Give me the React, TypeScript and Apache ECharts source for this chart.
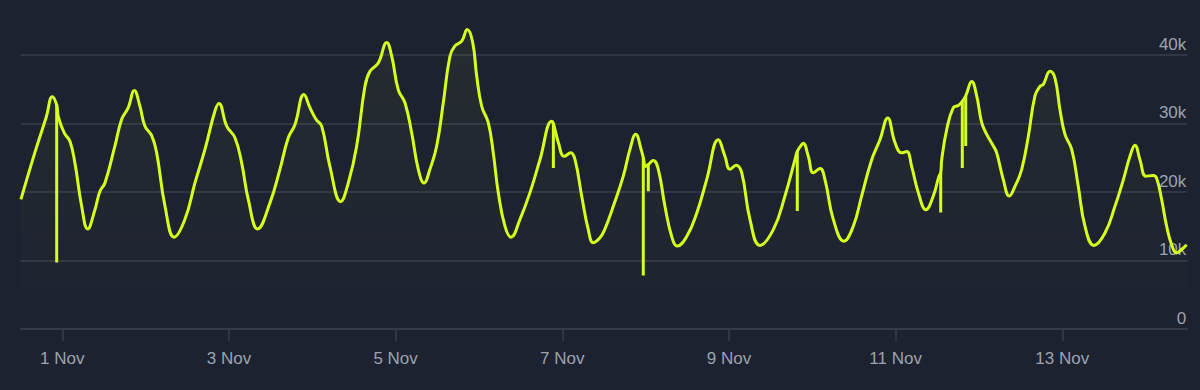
import React, { useEffect, useRef } from "react";
import * as echarts from "echarts";

// x = days since 1 Nov 00:00, y = concurrent users
const dayOffsets = [
  -0.496, -0.33, -0.19, -0.12, -0.067, -0.048, 0.024, 0.092, 0.152, 0.233, 0.305, 0.392, 0.452, 0.512,
  0.632, 0.713, 0.792, 0.864, 0.932, 0.992, 1.073, 1.133, 1.233, 1.344, 1.472, 1.592, 1.712, 1.832,
  1.88, 1.973, 2.072, 2.153, 2.232, 2.345, 2.492, 2.612, 2.712, 2.792, 2.9, 2.972, 3.044, 3.113,
  3.212, 3.341, 3.432, 3.533, 3.632, 3.692, 3.792, 3.893, 3.953, 4.032, 4.112, 4.193, 4.272, 4.341,
  4.412, 4.493, 4.572, 4.652, 4.712, 4.793, 4.86, 4.925, 4.973, 5.033, 5.112, 5.172, 5.232, 5.312,
  5.384, 5.492, 5.612, 5.732, 5.873, 5.893, 5.953, 6.024, 6.101, 6.153, 6.233, 6.312, 6.372, 6.452,
  6.512, 6.612, 6.732, 6.812, 6.881, 6.953, 6.972, 7.0, 7.032, 7.092, 7.152, 7.232, 7.313, 7.38,
  7.493, 7.613, 7.733, 7.872, 7.952, 8.012, 8.085, 8.153, 8.252, 8.372, 8.532, 8.672, 8.792, 8.82,
  8.873, 8.892, 8.952, 9.012, 9.092, 9.152, 9.252, 9.38, 9.492, 9.592, 9.713, 9.812, 9.905, 9.992,
  10.073, 10.133, 10.193, 10.272, 10.364, 10.452, 10.52, 10.541, 10.553, 10.613, 10.692, 10.752, 10.8,
  10.841, 10.913, 10.973, 11.033, 11.093, 11.173, 11.213, 11.292, 11.364, 11.432, 11.513, 11.592,
  11.672, 11.732, 11.772, 11.852, 11.912, 11.972, 12.032, 12.113, 12.192, 12.272, 12.38, 12.512,
  12.632, 12.733, 12.812, 12.872, 12.932, 13.004, 13.092, 13.132, 13.192, 13.252, 13.312, 13.372,
  13.432, 13.492,
];

const users = [
  18900, 25700, 31000, 33900, 32700, 31000, 28600, 27400, 24200, 17900, 14600, 17400, 20100, 21300,
  26700, 30600, 32300, 34800, 32500, 29600, 28200, 25700, 17900, 13400, 16000, 21300, 26200, 31800,
  32900, 29600, 27900, 24200, 18900, 14600, 18400, 23300, 27900, 29800, 34200, 32300, 30600, 29600,
  23700, 18600, 21300, 26700, 35400, 37600, 38800, 41800, 39800, 34900, 33000, 28600, 23300, 21300,
  23300, 26700, 33000, 39800, 41300, 42000, 43700, 41800, 36900, 32500, 30100, 25700, 19900, 15000,
  13400, 16000, 19900, 24700, 30300, 30000, 27200, 25200, 25700, 24700, 19400, 14500, 12600, 13300,
  14600, 17900, 22300, 26200, 28400, 25900, 25000, 23700, 24000, 24600, 23300, 17900, 13500, 12100,
  13500, 16900, 21800, 27600, 25200, 23300, 23900, 22800, 16000, 12200, 14500, 19400, 24700, 25900,
  26900, 27100, 25200, 22800, 23400, 21800, 16000, 12800, 15000, 19400, 24700, 27600, 30800, 27200,
  25700, 25900, 23700, 19900, 17400, 19400, 22300, 22800, 24700, 29100, 32300, 32600, 33200,
  34000, 36100, 34000, 30100, 28400, 26700, 25700, 21800, 19400, 20800, 23300, 28100,
  34000, 35400, 35700, 37600, 36600, 32000, 28400, 26200, 20800, 15000, 12200, 14000,
  17900, 21800, 25200, 26800, 24700, 22300, 22400, 22000, 18900, 15000, 12300, 11100,
  11600, 12300,
];

// momentary drop-outs drawn as vertical strokes
const spikeDays = [-0.067, 5.893, 6.972, 7.032, 8.82, 10.541, 10.8, 10.841];
const spikeTops = [32700, 30000, 25000, 24000, 25900, 22800, 33200, 34000];
const spikeLows = [9700, 23500, 7800, 20100, 17200, 17000, 23500, 26700];

const tickDays = [0, 2, 4, 6, 8, 10, 12];
const tickLabels = ["1 Nov", "3 Nov", "5 Nov", "7 Nov", "9 Nov", "11 Nov", "13 Nov"];

const LIME = "#d6ff1c";
const GRID = "#373e4e";
const TEXT = "#9ca2ad";
const FONT = "'Liberation Sans', Arial, sans-serif";

export default function App() {
  const ref = useRef<HTMLDivElement>(null);

  useEffect(() => {
    document.body.style.margin = "0";
    document.body.style.background = "#1d2231";
    if (!ref.current) return;
    const chart = echarts.init(ref.current, undefined, { renderer: "svg" });

    const mainData = dayOffsets.map((d, i) => [d, users[i]]);
    const spikeData: any[] = [];
    spikeDays.forEach((d, i) => {
      spikeData.push([d, spikeTops[i]]);
      spikeData.push([d, spikeLows[i]]);
      spikeData.push([d, "-"]);
    });

    chart.setOption({
      animation: false,
      backgroundColor: "#1d2231",
      grid: { left: 20.6, right: 12.7, top: 0, bottom: 61, containLabel: false },
      xAxis: {
        type: "value",
        min: -0.5,
        max: 13.5,
        axisLine: { show: true, lineStyle: { color: GRID, width: 1.5 } },
        axisTick: {
          show: true,
          customValues: tickDays,
          length: 12,
          lineStyle: { color: GRID, width: 1.5 },
        },
        axisLabel: {
          customValues: tickDays,
          formatter: (v: number) => tickLabels[tickDays.indexOf(Math.round(v))] ?? "",
          color: TEXT,
          fontSize: 17,
          fontFamily: FONT,
          margin: 21,
        },
        splitLine: { show: false },
      },
      yAxis: {
        type: "value",
        position: "right",
        min: 0,
        max: 48000,
        interval: 10000,
        axisLine: { show: false },
        axisTick: { show: false },
        axisLabel: {
          inside: true,
          verticalAlign: "bottom",
          margin: 1,
          padding: [0, 0, 2, 0],
          color: TEXT,
          fontSize: 17,
          fontFamily: FONT,
          showMaxLabel: false,
          formatter: (v: number) => (v === 0 ? "0" : v / 1000 + "k"),
        },
        splitLine: { show: true, showMaxLine: false, lineStyle: { color: GRID, width: 1.5 } },
      },
      series: [
        {
          type: "line",
          data: mainData,
          smooth: 0.45,
          symbol: "none",
          lineStyle: { color: LIME, width: 3 },
          areaStyle: {
            color: new echarts.graphic.LinearGradient(0, 0, 0, 1, [
              { offset: 0, color: "rgba(214,255,28,0.07)" },
              { offset: 1, color: "rgba(214,255,28,0.0)" },
            ]),
          },
          z: 3,
        },
        {
          type: "line",
          data: spikeData,
          symbol: "none",
          connectNulls: false,
          lineStyle: { color: LIME, width: 3 },
          z: 3,
        },
      ],
    });

    return () => chart.dispose();
  }, []);

  return <div ref={ref} style={{ width: 1200, height: 390 }} />;
}
